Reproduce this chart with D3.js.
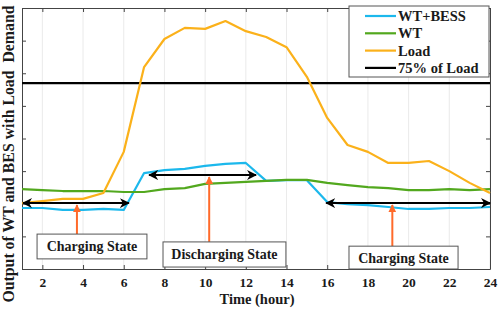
<!DOCTYPE html>
<html>
<head>
<meta charset="utf-8">
<script src="https://cdn.jsdelivr.net/npm/d3@7"></script>
<style>
  body { margin: 0; background: #fff; }
</style>
</head>
<body>
<svg></svg>
<script>
// Chart dimensions and margins.
const width = 498;
const height = 310;
const marginTop = 8;
const marginRight = 8;
const marginBottom = 41;
const marginLeft = 22;
const serif = "Liberation Serif";

// Data (hours 1..24, unitless output).
const hours = d3.range(1, 25);
const wtBess = [1.87, 1.87, 1.81, 1.81, 1.84, 1.81, 2.94, 3.03, 3.07, 3.16, 3.22, 3.25,
                2.70, 2.72, 2.72, 2.05, 1.99, 1.96, 1.90, 1.84, 1.84, 1.87, 1.87, 1.90];
const wt = [2.45, 2.42, 2.39, 2.39, 2.39, 2.36, 2.36, 2.45, 2.48, 2.61, 2.64, 2.67,
            2.70, 2.73, 2.73, 2.64, 2.57, 2.51, 2.48, 2.42, 2.42, 2.45, 2.42, 2.45];
const load = [2.02, 2.08, 2.15, 2.15, 2.33, 3.59, 6.19, 7.05, 7.39, 7.36, 7.60, 7.29,
              7.11, 6.80, 5.89, 4.63, 3.80, 3.59, 3.25, 3.25, 3.31, 3.00, 2.64, 2.33];
const load75 = 5.70;

const xTicks = d3.range(2, 25, 2);
const yTicks = d3.range(0, 9, 1);

// State annotations: double arrow span, pointer and label box (data units).
const states = [
  {label: "Charging State", from: 1, to: 6.3, level: 2.02, px: 3.7, py: 1.07, box: [1.74, 7.14, 1.07, 0.31]},
  {label: "Discharging State", from: 7.2, to: 12.55, level: 2.88, px: 10.2, py: 0.83, box: [7.93, 13.97, 0.83, 0.06]},
  {label: "Charging State", from: 15.9, to: 24.05, level: 2.02, px: 19.2, py: 0.70, box: [17.07, 22.43, 0.70, 0.0]}
];

const series = [
  {name: "WT+BESS", values: wtBess, color: "#1cb8ec"},
  {name: "WT", values: wt, color: "#52a81e"},
  {name: "Load", values: load, color: "#fbb11a"}
];

const svg = d3.select("svg")
    .attr("width", width)
    .attr("height", height)
    .attr("viewBox", [0, 0, width, height])
    .attr("font-family", serif)
    .attr("font-weight", "bold");

const x = d3.scaleLinear([1, 24], [marginLeft, width - marginRight]);
const y = d3.scaleLinear([0, 8], [height - marginBottom, marginTop]);

// Arrow markers.
const defs = svg.append("defs");
defs.append("marker")
    .attr("id", "head")
    .attr("viewBox", "0 0 10 10")
    .attr("refX", 9).attr("refY", 5)
    .attr("markerWidth", 5).attr("markerHeight", 5)
    .attr("markerUnits", "strokeWidth")
    .attr("orient", "auto-start-reverse")
  .append("path")
    .attr("d", "M0,0L10,5L0,10L3,5Z")
    .attr("fill", "#000");
defs.append("marker")
    .attr("id", "headOrange")
    .attr("viewBox", "0 0 10 10")
    .attr("refX", 9).attr("refY", 5)
    .attr("markerWidth", 4).attr("markerHeight", 4)
    .attr("orient", "auto")
  .append("path")
    .attr("d", "M0,0L10,5L0,10Z")
    .attr("fill", "#ff6a2a");

// Vertical grid lines.
svg.append("g")
  .selectAll("line")
  .data(xTicks)
  .join("line")
    .attr("x1", d => x(d)).attr("x2", d => x(d))
    .attr("y1", y(0)).attr("y2", y(8))
    .attr("stroke", "#e4e4e4")
    .attr("stroke-width", 0.8);

// Axes with inward ticks on all four sides.
svg.append("g")
    .attr("transform", `translate(0,${y(0)})`)
    .call(d3.axisBottom(x).tickValues(xTicks).tickSize(-4).tickPadding(8).tickSizeOuter(0))
    .call(g => g.attr("font-family", serif).attr("font-size", 13.5))
    .call(g => g.select(".domain").attr("stroke", "#444"))
    .call(g => g.selectAll(".tick line").attr("stroke", "#444"))
    .call(g => g.selectAll(".tick text")
        .attr("fill", "#1a1a1a")
        .attr("font-family", serif)
        .attr("font-weight", "bold"));
svg.append("g")
    .attr("transform", `translate(0,${y(8)})`)
    .call(d3.axisTop(x).tickValues(xTicks).tickSize(-4).tickFormat("").tickSizeOuter(0))
    .call(g => g.selectAll("line, path").attr("stroke", "#444"));
svg.append("g")
    .attr("transform", `translate(${x(1)},0)`)
    .call(d3.axisLeft(y).tickValues(yTicks).tickSize(-4).tickFormat("").tickSizeOuter(0))
    .call(g => g.selectAll("line, path").attr("stroke", "#444"));
svg.append("g")
    .attr("transform", `translate(${x(24)},0)`)
    .call(d3.axisRight(y).tickValues(yTicks).tickSize(-4).tickFormat("").tickSizeOuter(0))
    .call(g => g.selectAll("line, path").attr("stroke", "#444"));

// Axis titles.
svg.append("text")
    .attr("x", (x(1) + x(24)) / 2 + 1)
    .attr("y", 304)
    .attr("text-anchor", "middle")
    .attr("font-family", serif)
    .attr("font-size", 14.5)
    .attr("fill", "#1a1a1a")
    .text("Time (hour)");
svg.append("text")
    .attr("transform", "translate(13.5,154) rotate(-90)")
    .attr("text-anchor", "middle")
    .attr("font-family", serif)
    .attr("font-size", 15.8)
    .attr("fill", "#1a1a1a")
    .attr("xml:space", "preserve")
    .text("Output of WT and BES with Load  Demand");

// 75% of load reference.
svg.append("line")
    .attr("x1", x(1)).attr("x2", x(24))
    .attr("y1", y(load75)).attr("y2", y(load75))
    .attr("stroke", "#000")
    .attr("stroke-width", 2.2);

// Series lines.
const line = d3.line()
    .x((d, i) => x(hours[i]))
    .y(d => y(d));

svg.append("g")
    .attr("fill", "none")
    .attr("stroke-width", 2.2)
    .attr("stroke-linejoin", "round")
  .selectAll("path")
  .data(series)
  .join("path")
    .attr("stroke", d => d.color)
    .attr("d", d => line(d.values));

// State annotations.
const ann = svg.append("g");
ann.selectAll(".span")
  .data(states)
  .join("line")
    .attr("x1", d => x(d.from) + 1).attr("x2", d => x(d.to) - 1)
    .attr("y1", d => y(d.level)).attr("y2", d => y(d.level))
    .attr("stroke", "#000")
    .attr("stroke-width", 2)
    .attr("marker-start", "url(#head)")
    .attr("marker-end", "url(#head)");
ann.selectAll(".ptr")
  .data(states)
  .join("line")
    .attr("x1", d => x(d.px)).attr("x2", d => x(d.px))
    .attr("y1", d => y(d.py)).attr("y2", d => y(d.level) + 2)
    .attr("stroke", "#ff6a2a")
    .attr("stroke-width", 2)
    .attr("marker-end", "url(#headOrange)");
ann.selectAll("rect")
  .data(states)
  .join("rect")
    .attr("x", d => x(d.box[0]))
    .attr("y", d => y(d.box[2]))
    .attr("width", d => x(d.box[1]) - x(d.box[0]))
    .attr("height", d => y(d.box[3]) - y(d.box[2]))
    .attr("fill", "#fff")
    .attr("stroke", "#555")
    .attr("stroke-width", 1);
ann.selectAll("text")
  .data(states)
  .join("text")
    .attr("x", d => (x(d.box[0]) + x(d.box[1])) / 2)
    .attr("y", d => (y(d.box[2]) + y(d.box[3])) / 2 + 5)
    .attr("text-anchor", "middle")
    .attr("font-family", serif)
    .attr("font-size", 14)
    .attr("fill", "#1a1a1a")
    .text(d => d.label);

// Legend.
const legendItems = [...series, {name: "75% of Load", color: "#000"}];
const legend = svg.append("g").attr("transform", "translate(349,6)");
legend.append("rect")
    .attr("width", 140).attr("height", 71)
    .attr("fill", "#fff")
    .attr("stroke", "#555")
    .attr("stroke-width", 1);
const item = legend.selectAll(".item")
  .data(legendItems)
  .join("g")
    .attr("transform", (d, i) => `translate(0,${10 + i * 17.3})`);
item.append("line")
    .attr("x1", 16).attr("x2", 47)
    .attr("stroke", d => d.color)
    .attr("stroke-width", 2.2);
item.append("text")
    .attr("x", 49)
    .attr("y", 5)
    .attr("font-family", serif)
    .attr("font-size", 14.5)
    .attr("fill", "#1a1a1a")
    .text(d => d.name);
</script>
</body>
</html>
